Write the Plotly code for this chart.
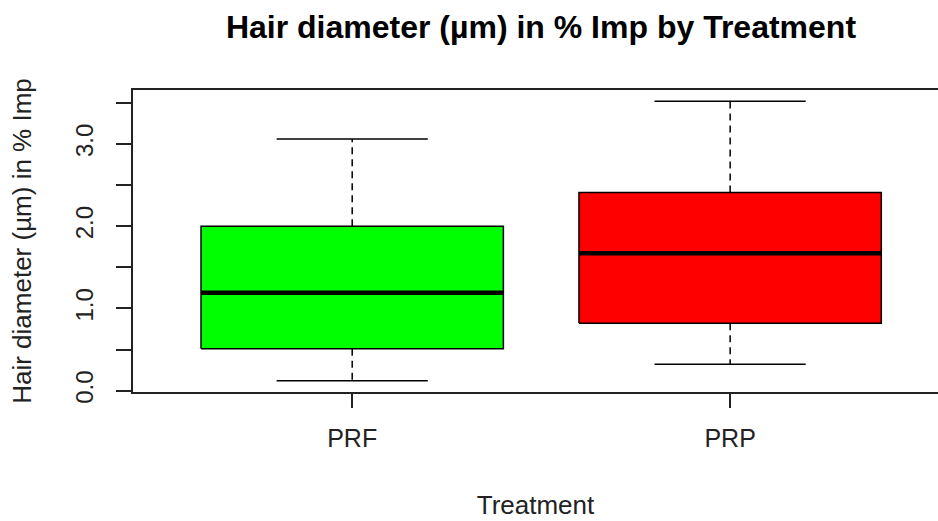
import plotly.graph_objects as go

# Summary statistics of hair-diameter improvement (%) per treatment group
treatments = ["PRF", "PRP"]
lower_whisker = [0.12, 0.32]
q1 = [0.51, 0.82]
median = [1.19, 1.67]
q3 = [2.00, 2.41]
upper_whisker = [3.06, 3.52]
fill_colors = ["#00FF00", "#FF0000"]

y_ticks = [0.0, 0.5, 1.0, 1.5, 2.0, 2.5, 3.0, 3.5]
y_tick_text = ["0.0", "", "1.0", "", "2.0", "", "3.0", ""]

BOX_W = 0.8
CAP_W = 0.4
FONT = "Liberation Sans, Arial, sans-serif"

fig = go.Figure()

for i, name in enumerate(treatments):
    x = i + 1
    # whiskers (dashed)
    fig.add_trace(go.Scatter(
        x=[x, x, None, x, x],
        y=[q3[i], upper_whisker[i], None, q1[i], lower_whisker[i]],
        mode="lines", line=dict(color="black", width=1.5, dash="7px,5px"),
        hoverinfo="skip", showlegend=False))
    # whisker caps
    fig.add_trace(go.Scatter(
        x=[x - CAP_W / 2, x + CAP_W / 2, None, x - CAP_W / 2, x + CAP_W / 2],
        y=[upper_whisker[i], upper_whisker[i], None, lower_whisker[i], lower_whisker[i]],
        mode="lines", line=dict(color="black", width=1.5),
        hoverinfo="skip", showlegend=False))
    # box (Q1..Q3)
    fig.add_trace(go.Scatter(
        x=[x - BOX_W / 2, x + BOX_W / 2, x + BOX_W / 2, x - BOX_W / 2, x - BOX_W / 2],
        y=[q1[i], q1[i], q3[i], q3[i], q1[i]],
        mode="lines", fill="toself", fillcolor=fill_colors[i],
        line=dict(color="black", width=1.5), name=name,
        hoverinfo="skip", showlegend=False))
    # median
    fig.add_trace(go.Scatter(
        x=[x - BOX_W / 2, x + BOX_W / 2],
        y=[median[i], median[i]],
        mode="lines", line=dict(color="black", width=4.5),
        name=name, showlegend=False))

# y range padded 4% beyond the data extent
lo, hi = min(lower_whisker), max(upper_whisker)
pad = 0.04 * (hi - lo)

fig.update_layout(
    width=938, height=521,
    margin=dict(l=133, r=0, t=90, b=129),
    paper_bgcolor="white", plot_bgcolor="white",
    font=dict(family=FONT, color="black"),
    title=dict(text="<b>Hair diameter (µm) in % Imp by Treatment</b>",
               font=dict(size=32, family=FONT, color="black"),
               x=541 / 938, xref="container", xanchor="center",
               y=1 - 27 / 521, yref="container", yanchor="middle"),
)

fig.update_xaxes(
    range=[0.42, 2.55],
    tickvals=[1, 2], ticktext=treatments,
    ticks="outside", ticklen=14, tickwidth=1.5, tickcolor="#222",
    tickfont=dict(size=25, color="#222"), ticklabelstandoff=9,
    showline=True, linecolor="#222", linewidth=1.5, mirror=True,
    showgrid=False, zeroline=False,
    title=dict(text="Treatment", font=dict(size=26, color="#222"), standoff=45),
)

fig.update_yaxes(
    range=[lo - pad, hi + pad],
    tickvals=y_ticks, ticktext=y_tick_text, tickangle=-90,
    ticks="outside", ticklen=15, tickwidth=1.5, tickcolor="#222",
    tickfont=dict(size=24, color="#222"), ticklabelstandoff=14,
    showline=True, linecolor="#222", linewidth=1.5, mirror=False,
    showgrid=False, zeroline=False,
    title=dict(text="Hair diameter (µm) in % Imp", font=dict(size=26, color="#222"), standoff=32),
)

fig.write_html("out.html")
